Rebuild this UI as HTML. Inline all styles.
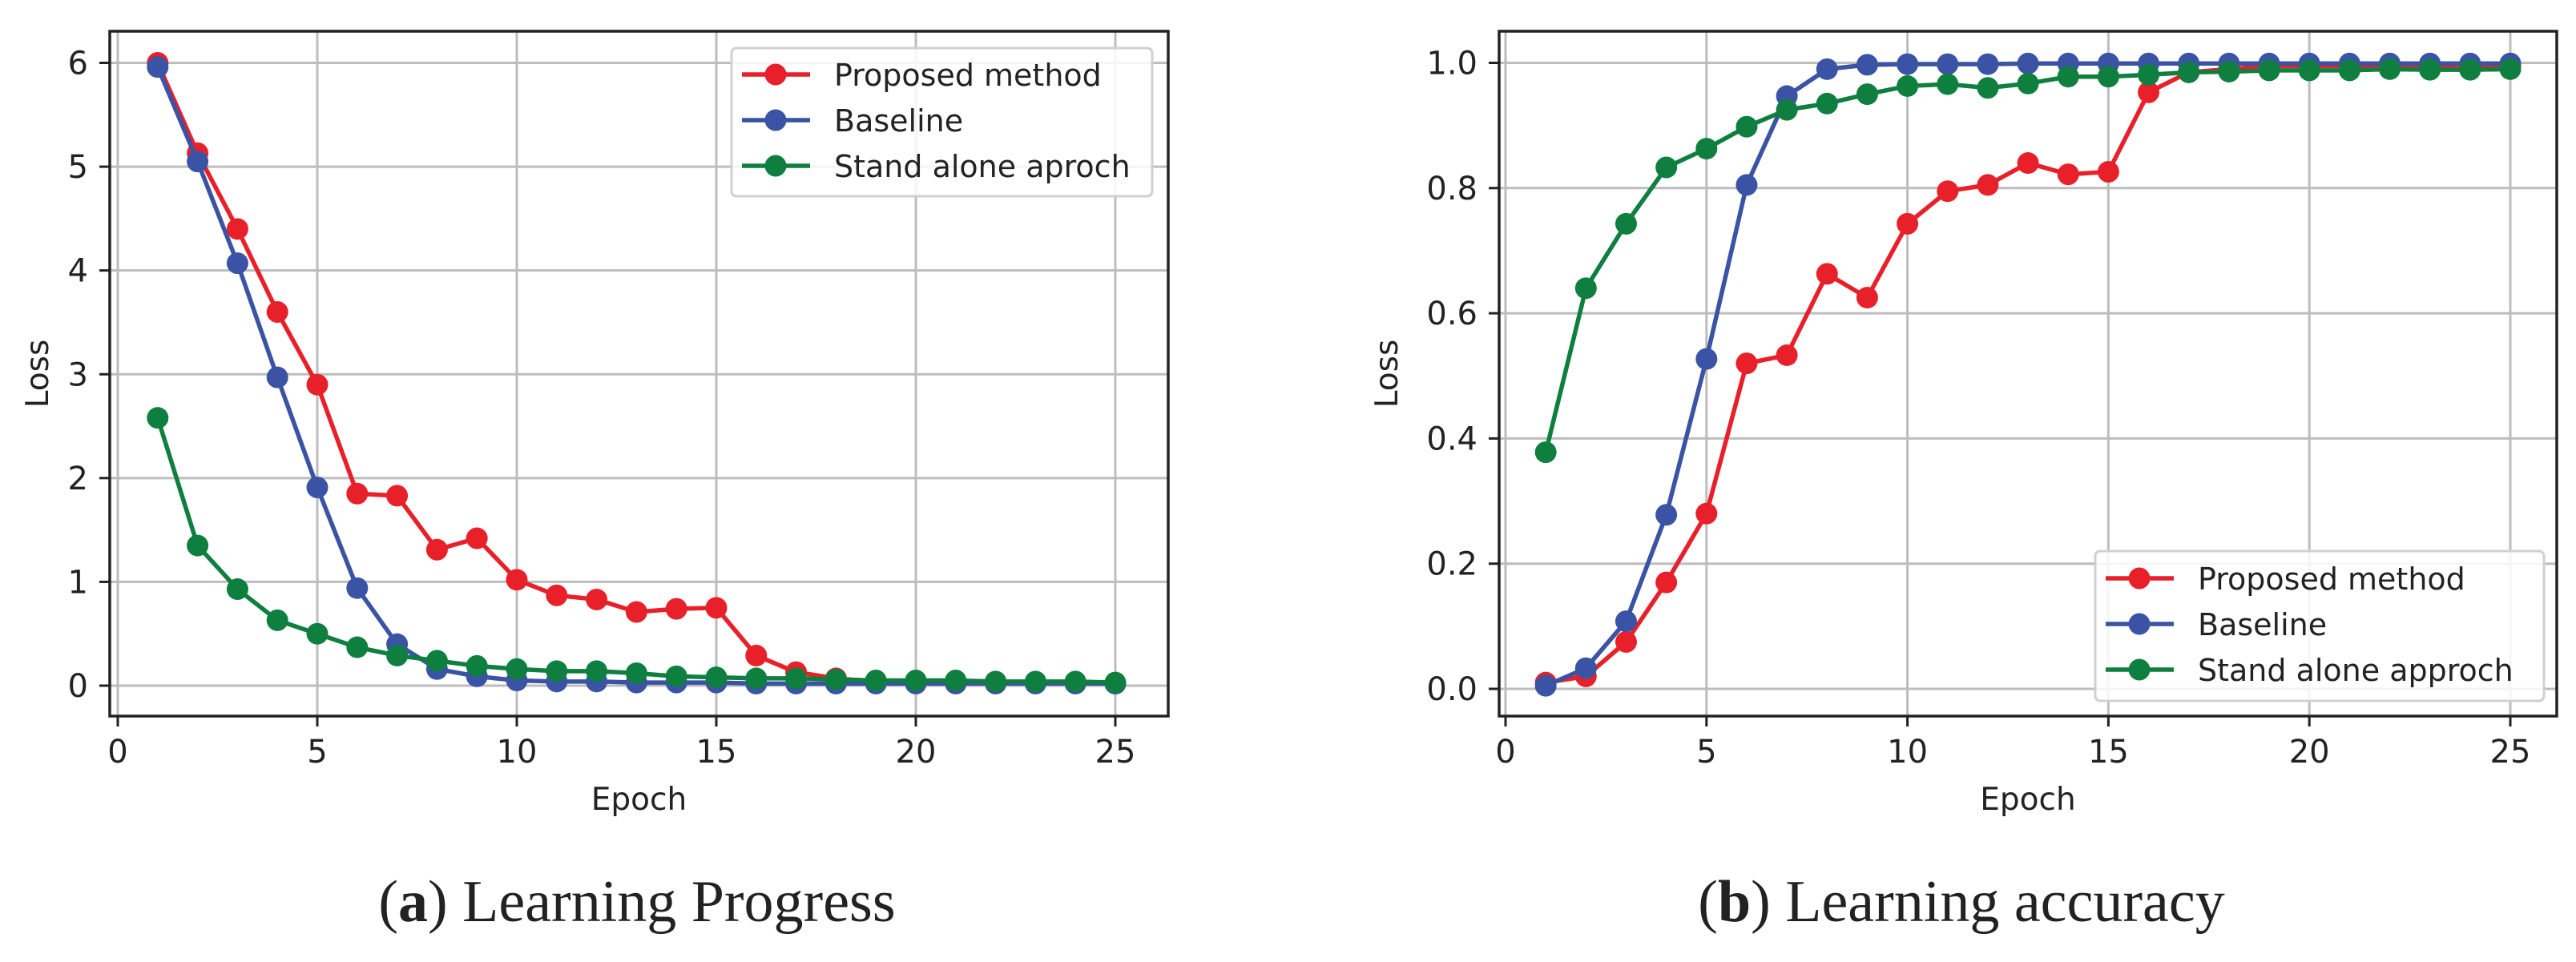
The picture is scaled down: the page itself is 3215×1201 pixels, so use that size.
<!DOCTYPE html>
<html><head><meta charset="utf-8"><style>
html,body{margin:0;padding:0;background:#fff;}
svg{display:block;}
</style></head><body>
<svg id="s" width="3215" height="1201" xmlns="http://www.w3.org/2000/svg"></svg>
<script>
const epochs=[1,2,3,4,5,6,7,8,9,10,11,12,13,14,15,16,17,18,19,20,21,22,23,24,25];
const xTicks=[0,5,10,15,20,25];
const lossYTicks=[0,1,2,3,4,5,6];
const accYTicks=[0.0,0.2,0.4,0.6,0.8,1.0];
const seriesNames=["Proposed method","Baseline"];
const lossProposed=[6.0,5.13,4.4,3.6,2.9,1.85,1.83,1.31,1.42,1.02,0.87,0.83,0.71,0.74,0.75,0.29,0.13,0.07,0.04,0.04,0.04,0.03,0.03,0.03,0.02];
const lossBaseline=[5.96,5.05,4.07,2.97,1.91,0.94,0.40,0.16,0.09,0.05,0.04,0.04,0.03,0.03,0.03,0.02,0.02,0.02,0.02,0.02,0.02,0.02,0.02,0.02,0.02];
const lossStand=[2.58,1.35,0.93,0.63,0.50,0.37,0.29,0.24,0.19,0.16,0.14,0.14,0.12,0.09,0.08,0.07,0.07,0.06,0.05,0.05,0.05,0.04,0.04,0.04,0.03];
const accProposed=[0.01,0.02,0.075,0.17,0.28,0.52,0.533,0.663,0.625,0.743,0.795,0.805,0.84,0.822,0.826,0.953,0.985,0.99,0.995,0.995,0.995,0.995,0.995,0.995,0.995];
const accBaseline=[0.005,0.033,0.108,0.278,0.527,0.805,0.947,0.99,0.997,0.998,0.998,0.998,0.999,0.999,0.999,0.999,0.999,0.999,0.999,0.999,0.999,0.999,0.999,0.999,0.999];
const accStand=[0.378,0.64,0.743,0.833,0.863,0.898,0.925,0.935,0.95,0.963,0.966,0.96,0.967,0.978,0.978,0.981,0.985,0.986,0.988,0.988,0.988,0.99,0.989,0.989,0.99];

const NS="http://www.w3.org/2000/svg";
const svg=document.getElementById('s');
function mk(tag,attrs,parent){const e=document.createElementNS(NS,tag);for(const k in attrs)e.setAttribute(k,attrs[k]);(parent||svg).appendChild(e);return e;}
const RED="#e8202a",BLUE="#3a53a4",GREEN="#0f7f3f";
const TF='"DejaVu Sans","Liberation Sans",sans-serif';

function panel(cfg){
  const g=mk('g',{});
  
  
  const xs=v=>cfg.x0+(v-0)*(cfg.x25-cfg.x0)/25;
  const ys=v=>cfg.yb+(v-cfg.ymin)*(cfg.yt-cfg.yb)/(cfg.ymax-cfg.ymin);
  cfg.yTicks.forEach(t=>{
    const l=mk('line',{x1:cfg.L,x2:cfg.R,y1:ys(t),y2:ys(t),stroke:'#bdbdbd','stroke-width':3},g);
    
    
    const tx=mk('text',{x:cfg.L-27,y:ys(t)+14,'text-anchor':'end','font-size':40,'font-family':TF,fill:'#222'},g);
    tx.textContent=cfg.fmt(t);
    
    
    mk('line',{x1:cfg.L-13,x2:cfg.L,y1:ys(t),y2:ys(t),stroke:'#222','stroke-width':3},g);
  });
  xTicks.forEach(t=>{
    const l=mk('line',{x1:xs(t),x2:xs(t),y1:cfg.T,y2:cfg.B,stroke:'#bdbdbd','stroke-width':3},g);
    
    
    mk('line',{x1:xs(t),x2:xs(t),y1:cfg.B,y2:cfg.B+13,stroke:'#222','stroke-width':3},g);
    const tx=mk('text',{x:xs(t),y:cfg.B+58,'text-anchor':'middle','font-size':40,'font-family':TF,fill:'#222'},g);
    tx.textContent=t;
    
    
  });
  const series=[[cfg.d[0],RED,'series-proposed'],[cfg.d[1],BLUE,'series-baseline'],[cfg.d[2],GREEN,'series-stand-alone']];
  series.forEach(([arr,c,n])=>{
    const sg=mk('g',{},g);
    
    
    const pts=arr.map((v,i)=>xs(epochs[i])+','+ys(v)).join(' ');
    mk('polyline',{points:pts,fill:'none',stroke:c,'stroke-width':5.5,'stroke-linejoin':'round'},sg);
    arr.forEach((v,i)=>{
      const ci=mk('circle',{cx:xs(epochs[i]),cy:ys(v),r:13.5,fill:c},sg);
      
      
    });
  });
  const fr=mk('rect',{x:cfg.L,y:cfg.T,width:cfg.R-cfg.L,height:cfg.B-cfg.T,fill:'none',stroke:'#222','stroke-width':3.5},g);
  
  
  const xl=mk('text',{x:(cfg.L+cfg.R)/2,y:1011,'text-anchor':'middle','font-size':39,'font-family':TF,fill:'#222'},g);
  xl.textContent='Epoch';
  
  
  const yl=mk('text',{x:0,y:0,'text-anchor':'middle','font-size':39,'font-family':TF,fill:'#222',transform:`translate(${cfg.ylx},${(cfg.T+cfg.B)/2}) rotate(-90)`},g);
  yl.textContent='Loss';
  
  
  const lg=mk('g',{},g);
  
  
  mk('rect',{x:cfg.lg.x,y:cfg.lg.y,width:cfg.lg.w,height:cfg.lg.h,rx:6,fill:'rgba(255,255,255,0.85)',stroke:'#d0d0d0','stroke-width':3},lg);
  const labels=[seriesNames[0],seriesNames[1],cfg.thirdName];
  [RED,BLUE,GREEN].forEach((c,i)=>{
    const y=cfg.lg.y+cfg.lg.first+i*57;
    const eg=mk('g',{},lg);
    
    
    mk('line',{x1:cfg.lg.x+13,x2:cfg.lg.x+98,y1:y,y2:y,stroke:c,'stroke-width':5.5},eg);
    mk('circle',{cx:cfg.lg.x+55,cy:y,r:13.5,fill:c},eg);
    const t=mk('text',{x:cfg.lg.x+128,y:y+14,'font-size':38,'font-family':TF,fill:'#222'},eg);
    t.textContent=labels[i];
  });
  const cap=mk('text',{x:cfg.capx,y:1150,'text-anchor':'middle','font-size':74,'font-family':'"Liberation Serif",serif',fill:'#222'},g);
  cap.innerHTML='(<tspan font-weight="bold">'+cfg.capL+'</tspan>) '+cfg.capT;
  
  
}

panel({name:'loss-chart',L:137,R:1458,T:39,B:894,x0:147,x25:1392,yb:856,yt:78.5,ymin:0,ymax:6,yTicks:lossYTicks,fmt:t=>String(t),
  d:[lossProposed,lossBaseline,lossStand],thirdName:'Stand alone aproch',ylx:60,
  lg:{x:913,y:60,w:525,h:185,first:33},capx:795,capL:'a',capT:'Learning Progress'});
panel({name:'accuracy-chart',L:1871,R:3191,T:39,B:894,x0:1879,x25:3133,yb:860,yt:78.5,ymin:0,ymax:1,yTicks:accYTicks,fmt:t=>t.toFixed(1),
  d:[accProposed,accBaseline,accStand],thirdName:'Stand alone approch',ylx:1744,
  lg:{x:2615,y:688,w:560,h:187,first:34},capx:2448,capL:'b',capT:'Learning accuracy'});
</script>
</body></html>
